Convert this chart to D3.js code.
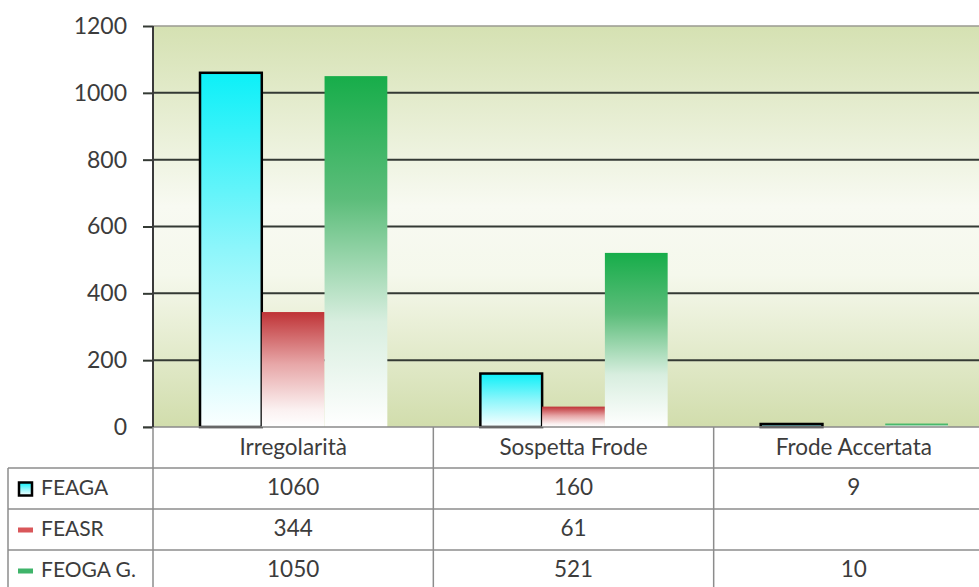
<!DOCTYPE html>
<html>
<head>
<meta charset="utf-8">
<script src="https://cdn.jsdelivr.net/npm/d3@7"></script>
<style>
  html, body { margin: 0; padding: 0; background: #fff; }
  svg { display: block; }
  text { font-family: Lato, "Open Sans", sans-serif; fill: #3c3c3c; }
</style>
</head>
<body>
<svg id="chart" width="979" height="587"></svg>
<script>
const categories = ["Irregolarità", "Sospetta Frode", "Frode Accertata"];
const seriesNames = ["FEAGA", "FEASR", "FEOGA G."];
const feaga = [1060, 160, 9];
const feasr = [344, 61, null];
const feoga = [1050, 521, 10];
const yTicks = [0, 200, 400, 600, 800, 1000, 1200];

(function () {
const seriesValues = [feaga, feasr, feoga];
const seriesKeys = ["feaga", "feasr", "feoga"];

const svg = d3.select("#chart");
const W = 979, H = 587;
const pLeft = 153, pTop = 26, pBottom = 427;
const plotRight = 994;
const rowH = 41;
const fs = "22.5px";

const x = d3.scaleBand().domain(categories).range([pLeft, plotRight]).paddingInner(0).paddingOuter(0);
const xs = d3.scaleBand().domain(seriesKeys).range([0, x.bandwidth()]).paddingInner(0).paddingOuter(0.733);
const y = d3.scaleLinear().domain([0, 1200]).range([pBottom, pTop]);

const defs = svg.append("defs");
const bg = defs.append("linearGradient").attr("id", "bgGrad").attr("x1", 0).attr("y1", 0).attr("x2", 0).attr("y2", 1);
[[0, "#d5e1b2"], [0.45, "#f8faf2"], [0.62, "#f5f8ec"], [1, "#d1ddac"]].forEach(([o, c]) =>
  bg.append("stop").attr("offset", o).attr("stop-color", c));

const grads = {
  feaga: [[0, "#0cf0f8"], [0.5, "#8ef6fb"], [1, "#fbffff"]],
  feasr: [[0, "#bf3336"], [0.45, "#e7a6a7"], [0.85, "#fbf1f1"], [1, "#ffffff"]],
  feoga: [[0, "#17ad4a"], [0.35, "#5cbd7a"], [0.7, "#d8eedf"], [1, "#ffffff"]]
};
Object.entries(grads).forEach(([k, stops]) => {
  const g = defs.append("linearGradient").attr("id", "g_" + k).attr("x1", 0).attr("y1", 0).attr("x2", 0).attr("y2", 1);
  stops.forEach(([o, c]) => g.append("stop").attr("offset", o).attr("stop-color", c));
});

svg.append("rect").attr("x", pLeft).attr("y", pTop).attr("width", plotRight - pLeft).attr("height", pBottom - pTop)
  .attr("fill", "url(#bgGrad)");

svg.append("g").selectAll("line").data(yTicks.filter(t => t > 0)).join("line")
  .attr("x1", pLeft).attr("x2", W)
  .attr("y1", d => y(d)).attr("y2", d => y(d))
  .attr("stroke", d => d === 1200 ? "#9a9a90" : "#343a34")
  .attr("stroke-width", d => d === 1200 ? 1.5 : 2);

const barData = [];
categories.forEach((c, ci) => {
  seriesKeys.forEach((k, si) => {
    const v = seriesValues[si][ci];
    if (v != null) barData.push({ c, k, v });
  });
});
svg.append("g").selectAll("rect").data(barData).join("rect")
  .attr("x", d => x(d.c) + xs(d.k) + (d.k === "feaga" ? 1 : 0))
  .attr("width", d => xs.bandwidth() - (d.k === "feaga" ? 1 : 0))
  .attr("y", d => y(d.v))
  .attr("height", d => y(0) - y(d.v))
  .attr("fill", d => `url(#g_${d.k})`)
  .attr("stroke", d => d.k === "feaga" ? "#000" : "none")
  .attr("stroke-width", 2.5);

svg.append("line").attr("x1", 143).attr("x2", W).attr("y1", pBottom).attr("y2", pBottom)
  .attr("stroke", "#8a8a8a").attr("stroke-width", 1.5);

const yAxis = d3.axisLeft(y).tickValues(yTicks).tickSize(10).tickPadding(16).tickFormat(d3.format("d"));
const ya = svg.append("g").attr("transform", `translate(${pLeft},0)`).call(yAxis);
ya.select(".domain").remove();
ya.selectAll(".tick line").attr("stroke", "#343a34").attr("stroke-width", 2);
ya.selectAll(".tick text").style("font-size", "23px").attr("fill", "#3c3c3c").style("font-family", "Lato, sans-serif");
svg.append("line").attr("x1", pLeft).attr("x2", pLeft).attr("y1", pTop).attr("y2", pBottom)
  .attr("stroke", "#3a3a3a").attr("stroke-width", 2);

const tbl = svg.append("g");
const gridC = "#8c8c8c";
const rowsTop = pBottom + rowH;
[0, 1, 2, 3].forEach(i => {
  tbl.append("line").attr("x1", 8).attr("x2", W)
    .attr("y1", rowsTop + i * rowH).attr("y2", rowsTop + i * rowH)
    .attr("stroke", gridC).attr("stroke-width", 1.5);
});
tbl.append("line").attr("x1", 8).attr("x2", 8).attr("y1", rowsTop).attr("y2", H)
  .attr("stroke", gridC).attr("stroke-width", 1.5);
[pLeft, ...categories.slice(1).map(c => x(c))].forEach(vx => {
  tbl.append("line").attr("x1", vx).attr("x2", vx).attr("y1", pBottom).attr("y2", H)
    .attr("stroke", gridC).attr("stroke-width", 1.5);
});
tbl.selectAll("text.cat").data(categories).join("text").attr("class", "cat")
  .attr("x", d => x(d) + x.bandwidth() / 2)
  .attr("y", pBottom + rowH / 2 + 2)
  .attr("text-anchor", "middle").attr("dominant-baseline", "middle")
  .style("font-size", fs).text(d => d);
seriesKeys.forEach((k, si) => {
  const cy = rowsTop + si * rowH + rowH / 2 + 1;
  if (k === "feaga") {
    tbl.append("rect").attr("x", 19).attr("y", cy - 7).attr("width", 13).attr("height", 13)
      .attr("fill", "url(#g_feaga)").attr("stroke", "#000").attr("stroke-width", 2.5);
  } else {
    tbl.append("rect").attr("x", 18).attr("y", cy - 3).attr("width", 15).attr("height", 5)
      .attr("fill", k === "feasr" ? "#d9575a" : "#3fb46a");
  }
  tbl.append("text").attr("x", 41).attr("y", cy).attr("dominant-baseline", "middle")
    .style("font-size", "21px").text(seriesNames[si]);
  categories.forEach((c, ci) => {
    const v = seriesValues[si][ci];
    if (v == null) return;
    tbl.append("text").attr("x", x(c) + x.bandwidth() / 2).attr("y", cy)
      .attr("text-anchor", "middle").attr("dominant-baseline", "middle")
      .style("font-size", fs).text(v);
  });
});
})();
</script>
</body>
</html>
